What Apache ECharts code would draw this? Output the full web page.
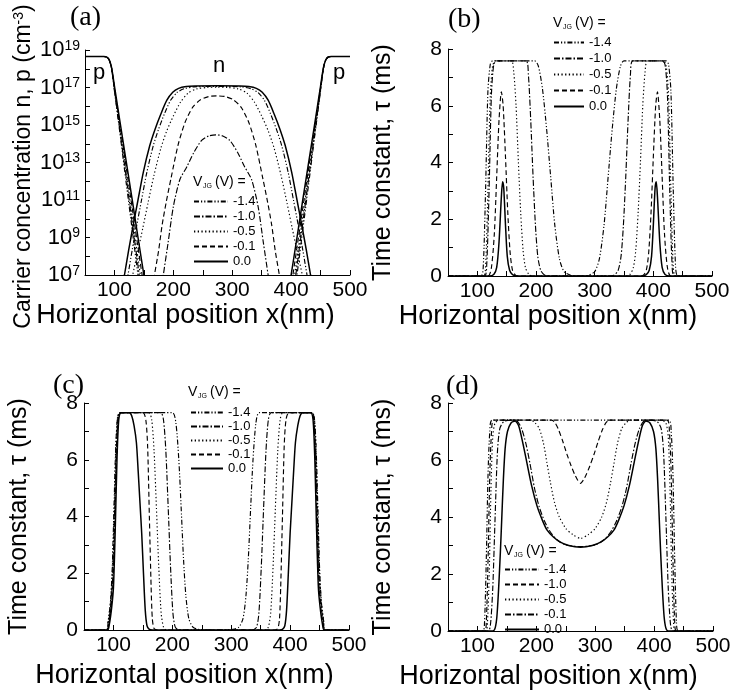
<!DOCTYPE html>
<html><head><meta charset="utf-8">
<script src="https://cdn.jsdelivr.net/npm/echarts@6/dist/echarts.min.js"></script>
<style>html,body{margin:0;padding:0;background:#fff}#c{width:732px;height:699px}</style>
</head><body><div id="c"></div>
<script>
// ---------- legend / tick labels ----------
const vjgLabels = ['-1.4', '-1.0', '-0.5', '-0.1', '0.0'];
const xTickLabels = [100, 200, 300, 400, 500];

// ---------- panel (a): carrier concentration (cm^-3) ----------
const a_pL_00 = [[50,4.5e18],[82,4.5e18],[87,4.2e18],[91,3e18],[95,1.2e18],[100,1.2e17],[110,1.1e15],[120,1.1e13],[130,1.1e11],[140,1e9],[150,1e7],[156,6e5]];
const a_pL_01 = [[50,4.5e18],[82,4.5e18],[87,4.2e18],[91,3e18],[95,1.1e18],[100,9.5e16],[110,7e14],[120,5.5e12],[130,4e10],[140,3e8],[147,1e7],[153,6e5]];
const a_pL_05 = [[50,4.5e18],[82,4.5e18],[87,4.2e18],[91,3e18],[95,1.1e18],[100,8e16],[110,4.7e14],[120,2.6e12],[130,1.5e10],[140,8e7],[144,1e7],[150,5e5]];
const a_pL_10 = [[50,4.5e18],[82,4.5e18],[87,4.2e18],[91,3e18],[95,1.1e18],[100,8e16],[110,3.2e14],[120,1.6e12],[130,6.5e9],[137,1.6e8],[142,1e7],[147,6e5]];
const a_pL_14 = [[50,4.5e18],[82,4.5e18],[87,4.2e18],[91,3e18],[95,1.1e18],[100,6.5e16],[110,2.5e14],[120,8e11],[130,2.8e9],[140,1e7],[145,6e5]];
const a_pR_00 = [[394,6e5],[400,1e7],[410,1e9],[420,1.1e11],[430,1.1e13],[440,1.1e15],[450,1.2e17],[455,1.2e18],[459,3e18],[463,4.2e18],[468,4.5e18],[500,4.5e18]];
const a_pR_01 = [[397,6e5],[403,1e7],[410,3e8],[420,4e10],[430,5.5e12],[440,7e14],[450,9.5e16],[455,1.1e18],[459,3e18],[463,4.2e18],[468,4.5e18],[500,4.5e18]];
const a_pR_05 = [[400,5e5],[406,1e7],[410,8e7],[420,1.5e10],[430,2.6e12],[440,4.7e14],[450,8e16],[455,1.1e18],[459,3e18],[463,4.2e18],[468,4.5e18],[500,4.5e18]];
const a_pR_10 = [[403,6e5],[408,1e7],[413,1.6e8],[420,6.5e9],[430,1.6e12],[440,3.2e14],[450,8e16],[455,1.1e18],[459,3e18],[463,4.2e18],[468,4.5e18],[500,4.5e18]];
const a_pR_14 = [[405,6e5],[410,1e7],[420,2.8e9],[430,8e11],[440,2.5e14],[450,6.5e16],[455,1.1e18],[459,3e18],[463,4.2e18],[468,4.5e18],[500,4.5e18]];
const a_n_00 = [[111,8e5],[117,1e7],[124,2e8],[132,4.7e9],[140,1e11],[149,3e12],[160,8e13],[169,6e14],[179,4e15],[189,2.1e16],[199,5.6e16],[209,9e16],[222,1.12e17],[237,1.2e17],[275,1.25e17],[313,1.2e17],[328,1.12e17],[341,9e16],[351,5.6e16],[361,2.1e16],[371,4e15],[381,6e14],[390,8e13],[401,3e12],[410,1e11],[418,4.7e9],[426,2e8],[433,1e7],[439,8e5]];
const a_n_14 = [[117,8e5],[123,1e7],[130,2e8],[138,4.7e9],[146,1e11],[155,3e12],[166,8e13],[175,6e14],[185,4e15],[195,2e16],[206,5.3e16],[218,8.5e16],[235,1.08e17],[275,1.15e17],[315,1.08e17],[332,8.5e16],[344,5.3e16],[355,2e16],[365,4e15],[375,6e14],[384,8e13],[395,3e12],[404,1e11],[412,4.7e9],[420,2e8],[427,1e7],[433,8e5]];
const a_n_05 = [[125,8e5],[131,1e7],[140,2e8],[148,3e9],[157,7e10],[167,2e12],[179,6e13],[189,5e14],[200,3e15],[212,1.6e16],[225,5e16],[240,8.5e16],[258,1e17],[275,1.05e17],[292,1e17],[310,8.5e16],[325,5e16],[338,1.6e16],[350,3e15],[361,5e14],[371,6e13],[383,2e12],[393,7e10],[402,3e9],[410,2e8],[419,1e7],[425,8e5]];
const a_n_01 = [[163,8e5],[168,1e7],[175,2e8],[181,4.7e9],[188,8e10],[196,1.4e12],[208,8.5e13],[220,1.4e15],[233,9e15],[246,2.2e16],[260,3.3e16],[274,3.55e16],[288,3.3e16],[302,2.2e16],[315,9e15],[328,1.4e15],[340,8.5e13],[352,1.4e12],[360,8e10],[367,4.7e9],[373,2e8],[380,1e7],[385,8e5]];
const a_n_10 = [[178,8e5],[183,1e7],[191,5e8],[200,4.4e10],[211,1.2e12],[223,6e12],[235,3.5e13],[248,1.5e14],[260,2.6e14],[272,3e14],[284,2.6e14],[296,1.5e14],[309,3.5e13],[321,6e12],[333,1.2e12],[344,4.4e10],[353,5e8],[361,1e7],[366,8e5]];

// ---------- panel (b): time constant (ms) ----------
const b_14 = [[50,0],[106,0],[110,0.3],[114,3],[118,6.5],[122,7.45],[126,7.58],[198,7.58],[204,7.4],[211,6.6],[218,5.2],[225,3.5],[232,1.8],[240,0.6],[248,0.15],[260,0.02],[274,0],[288,0.02],[300,0.15],[308,0.6],[316,1.8],[323,3.5],[330,5.2],[337,6.6],[344,7.4],[350,7.58],[422,7.58],[426,7.45],[430,6.5],[434,3],[438,0.3],[442,0],[500,0]];
const b_10 = [[50,0],[112,0],[116,0.4],[120,3],[124,6.4],[128,7.45],[133,7.58],[183,7.58],[187,7.1],[191,5.5],[195,3.5],[199,1.8],[203,0.7],[208,0.2],[215,0.03],[225,0],[323,0],[333,0.03],[340,0.2],[345,0.7],[349,1.8],[353,3.5],[357,5.5],[361,7.1],[365,7.58],[415,7.58],[420,7.45],[424,6.4],[428,3],[432,0.4],[436,0],[500,0]];
const b_05 = [[50,0],[110,0],[114,0.3],[118,3],[122,6.3],[126,7.4],[131,7.58],[158,7.58],[162,7.2],[166,6],[170,4],[174,2.2],[178,0.9],[182,0.3],[188,0.05],[195,0],[353,0],[360,0.05],[366,0.3],[370,0.9],[374,2.2],[378,4],[382,6],[386,7.2],[390,7.58],[417,7.58],[422,7.4],[426,6.3],[430,3],[434,0.3],[438,0],[500,0]];
const b_01 = [[50,0],[118,0],[124,0.3],[129,1.5],[133,3.5],[137,5.5],[141,6.49],[144,6.0],[148,4.2],[152,2.2],[156,0.8],[160,0.2],[165,0.03],[172,0],[376,0],[383,0.03],[388,0.2],[392,0.8],[396,2.2],[400,4.2],[404,6.0],[407,6.49],[411,5.5],[415,3.5],[419,1.5],[424,0.3],[430,0],[500,0]];
const b_00 = [[50,0],[120,0],[128,0.05],[133,0.3],[137,1.2],[141,2.8],[143,3.32],[145,3.1],[148,1.8],[151,0.7],[155,0.2],[160,0.05],[168,0],[380,0],[388,0.05],[393,0.2],[397,0.7],[400,1.8],[403,3.1],[405,3.32],[407,2.8],[411,1.2],[415,0.3],[420,0.05],[428,0],[500,0]];

// ---------- panel (c): time constant (ms) ----------
const c_14 = [[50,0],[88,0],[91,0.3],[95,1],[98,2.2],[101,4.4],[104,6.5],[107,7.5],[111,7.66],[200,7.66],[206,7.3],[211,6],[215,4.3],[219,2.5],[223,1.2],[228,0.4],[235,0.1],[245,0.02],[258,0],[290,0],[303,0.02],[313,0.1],[320,0.4],[325,1.2],[329,2.5],[333,4.3],[337,6],[342,7.3],[348,7.66],[437,7.66],[441,7.5],[444,6.5],[447,4.4],[450,2.2],[453,1],[457,0.3],[460,0],[500,0]];
const c_10 = [[50,0],[89,0],[92,0.3],[96,1],[99,2],[102,4.2],[105,6.4],[108,7.5],[112,7.66],[180,7.66],[185,7.4],[189,6.3],[193,4.3],[197,2.2],[201,0.6],[205,0.1],[212,0],[336,0],[343,0.1],[347,0.6],[351,2.2],[355,4.3],[359,6.3],[363,7.4],[368,7.66],[436,7.66],[440,7.5],[443,6.4],[446,4.2],[449,2],[452,1],[456,0.3],[459,0],[500,0]];
const c_05 = [[50,0],[88,0],[91,0.3],[95,1],[98,2],[101,4],[104,6.3],[107,7.5],[111,7.66],[160,7.66],[165,7.4],[169,6.3],[173,4.3],[177,2.2],[181,0.6],[185,0.1],[190,0],[358,0],[363,0.1],[367,0.6],[371,2.2],[375,4.3],[379,6.3],[383,7.4],[388,7.66],[437,7.66],[441,7.5],[444,6.3],[447,4],[450,2],[453,1],[457,0.3],[460,0],[500,0]];
const c_01 = [[50,0],[89,0],[92,0.2],[96,0.8],[99,1.6],[102,3.6],[105,6],[108,7.4],[112,7.66],[150,7.66],[155,7.4],[158,6.5],[161,4],[164,1.5],[166,0.4],[169,0.05],[175,0],[373,0],[379,0.05],[382,0.4],[384,1.5],[387,4],[390,6.5],[393,7.4],[398,7.66],[436,7.66],[440,7.4],[443,6],[446,3.6],[449,1.6],[452,0.8],[456,0.2],[459,0],[500,0]];
const c_00 = [[50,0],[90,0],[93,0.2],[97,0.8],[100,1.5],[103,3.5],[106,6],[109,7.4],[113,7.66],[127,7.66],[131,7.55],[135,7.2],[139,6.6],[142,5.6],[145,4.5],[148,3.4],[151,2.0],[154,0.7],[157,0.15],[161,0.02],[166,0],[382,0],[387,0.02],[391,0.15],[394,0.7],[397,2.0],[400,3.4],[403,4.5],[406,5.6],[409,6.6],[413,7.2],[417,7.55],[421,7.66],[435,7.66],[439,7.4],[442,6],[445,3.5],[448,1.5],[451,0.8],[455,0.2],[458,0],[500,0]];

// ---------- panel (d): time constant (ms) ----------
const d_14 = [[50,0],[109,0],[112,0.3],[115,2.5],[118,5.5],[121,7.0],[125,7.4],[425,7.4],[429,7.0],[432,5.5],[435,2.5],[438,0.3],[441,0],[500,0]];
const d_10 = [[50,0],[112,0],[115,0.3],[118,2.5],[121,5.5],[124,7.0],[128,7.4],[226,7.4],[232,7.3],[238,7.05],[245,6.65],[252,6.2],[259,5.8],[265,5.5],[270,5.3],[275,5.18],[280,5.3],[285,5.5],[291,5.8],[298,6.2],[305,6.65],[312,7.05],[318,7.3],[324,7.4],[422,7.4],[426,7.0],[429,5.5],[432,2.5],[435,0.3],[438,0],[500,0]];
const d_05 = [[50,0],[114,0],[117,0.3],[120,2],[123,5],[126,6.8],[130,7.3],[138,7.4],[190,7.4],[198,7.3],[205,7.1],[212,6.6],[218,5.9],[224,5.2],[231,4.5],[239,4.0],[250,3.6],[262,3.38],[275,3.25],[288,3.38],[300,3.6],[311,4.0],[319,4.5],[326,5.2],[332,5.9],[338,6.6],[345,7.1],[352,7.3],[360,7.4],[412,7.4],[420,7.3],[424,6.8],[427,5],[430,2],[433,0.3],[436,0],[500,0]];
const d_01 = [[50,0],[118,0],[122,0.2],[126,1.5],[130,4],[134,6.3],[138,7.1],[145,7.35],[160,7.4],[168,7.35],[175,7.1],[182,6.6],[189,5.9],[197,5.0],[205,4.35],[214,3.85],[223,3.5],[235,3.2],[250,3.02],[275,2.96],[300,3.02],[315,3.2],[327,3.5],[336,3.85],[345,4.35],[353,5.0],[361,5.9],[368,6.6],[375,7.1],[382,7.35],[390,7.4],[405,7.35],[412,7.1],[416,6.3],[420,4],[424,1.5],[428,0.2],[432,0],[500,0]];
const d_00 = [[50,0],[126,0],[130,0.1],[133,0.5],[136,1.5],[139,2.8],[141,3.8],[144,5.3],[147,6.4],[151,7.0],[157,7.3],[164,7.37],[170,7.2],[177,6.6],[184,5.9],[192,5.1],[201,4.4],[210,3.9],[218,3.55],[229,3.3],[240,3.13],[255,3.0],[275,2.94],[295,3.0],[310,3.13],[321,3.3],[332,3.55],[340,3.9],[349,4.4],[358,5.1],[366,5.9],[373,6.6],[380,7.2],[386,7.37],[393,7.3],[399,7.0],[403,6.4],[406,5.3],[409,3.8],[411,2.8],[414,1.5],[417,0.5],[420,0.1],[424,0],[500,0]];

// ---------- styles ----------
const FONT = '"Liberation Sans", Arial, sans-serif';
const DASH = {
  dd: [5, 2, 1.2, 2, 1.2, 2],
  dt: [6, 2, 1.5, 2],
  dot: [1.3, 2.4],
  das: [5, 3],
  sol: 'solid'
};
function line(panel, label, data, dash, gi) {
  return {
    type: 'line', name: panel + '|' + label, data: data,
    xAxisIndex: gi, yAxisIndex: gi, symbol: 'none', showSymbol: false,
    smooth: 0.25, clip: true, animation: false,
    itemStyle: { color: '#000' },
    lineStyle: { color: '#000', width: dash === 'solid' ? 1.5 : 1.15, type: dash },
    emphasis: { disabled: true }
  };
}
const series = [
  // (a)
  line('a', '-1.4', a_n_14, DASH.dd, 0), line('a', '-1.4', a_pL_14, DASH.dd, 0), line('a', '-1.4', a_pR_14, DASH.dd, 0),
  line('a', '-1.0', a_n_10, DASH.dt, 0), line('a', '-1.0', a_pL_10, DASH.dt, 0), line('a', '-1.0', a_pR_10, DASH.dt, 0),
  line('a', '-0.5', a_n_05, DASH.dot, 0), line('a', '-0.5', a_pL_05, DASH.dot, 0), line('a', '-0.5', a_pR_05, DASH.dot, 0),
  line('a', '-0.1', a_n_01, DASH.das, 0), line('a', '-0.1', a_pL_01, DASH.das, 0), line('a', '-0.1', a_pR_01, DASH.das, 0),
  line('a', '0.0', a_n_00, DASH.sol, 0), line('a', '0.0', a_pL_00, DASH.sol, 0), line('a', '0.0', a_pR_00, DASH.sol, 0),
  // (b)
  line('b', '-1.4', b_14, DASH.dd, 1), line('b', '-1.0', b_10, DASH.dt, 1), line('b', '-0.5', b_05, DASH.dot, 1),
  line('b', '-0.1', b_01, DASH.das, 1), line('b', '0.0', b_00, DASH.sol, 1),
  // (c)
  line('c', '-1.4', c_14, DASH.dd, 2), line('c', '-1.0', c_10, DASH.dt, 2), line('c', '-0.5', c_05, DASH.dot, 2),
  line('c', '-0.1', c_01, DASH.das, 2), line('c', '0.0', c_00, DASH.sol, 2),
  // (d) : legend here pairs -1.0 with dashed and -0.1 with dash-dot
  line('d', '-1.4', d_14, DASH.dd, 3), line('d', '-1.0', d_10, DASH.das, 3), line('d', '-0.5', d_05, DASH.dot, 3),
  line('d', '-0.1', d_01, DASH.dt, 3), line('d', '0.0', d_00, DASH.sol, 3)
];

const gridBase = { containLabel: false, outerBoundsMode: 'none' };
const grids = [
  Object.assign({ left: 85, top: 50, width: 265, height: 225 }, gridBase),
  Object.assign({ left: 448, top: 49, width: 264, height: 227 }, gridBase),
  Object.assign({ left: 84, top: 403, width: 265, height: 227 }, gridBase),
  Object.assign({ left: 448, top: 403, width: 265, height: 228 }, gridBase)
];
const axisLine = { show: true, onZero: false, lineStyle: { color: '#000', width: 1 } };
function xAxis(gi, gap) {
  return {
    type: 'value', gridIndex: gi, min: 50, max: 500, interval: 50,
    axisLine: axisLine, splitLine: { show: false },
    axisTick: { show: true, inside: true, length: 5, lineStyle: { color: '#000' } },
    axisLabel: { color: '#000', fontSize: 21, fontFamily: FONT, margin: 5,
      formatter: v => (xTickLabels.indexOf(v) >= 0 ? String(v) : '') },
    name: 'Horizontal position x(nm)', nameLocation: 'middle', nameGap: gap, nameMoveOverlap: false,
    nameTextStyle: { color: '#000', fontSize: 27, fontFamily: FONT, padding: [0, 64, 0, 0] }
  };
}
function yTau(gi) {
  return {
    type: 'value', gridIndex: gi, min: 0, max: 8, interval: 1,
    axisLine: axisLine, splitLine: { show: false },
    axisTick: { show: true, inside: true, length: 5, lineStyle: { color: '#000' } },
    axisLabel: { color: '#000', fontSize: 21, fontFamily: FONT, margin: 6,
      formatter: v => (v % 2 === 0 ? String(v) : '') },
    name: 'Time constant, τ (ms)', nameLocation: 'middle', nameGap: 52, nameMoveOverlap: false,
    nameTextStyle: { color: '#000', fontSize: 25, fontFamily: FONT }
  };
}
const yAxes = [
  {
    type: 'log', logBase: 10, gridIndex: 0, min: 1e7, max: 1e19, interval: 1,
    axisLine: axisLine, splitLine: { show: false },
    axisTick: { show: true, inside: true, length: 5, lineStyle: { color: '#000' } },
    axisLabel: {
      color: '#000', fontFamily: FONT, margin: 5,
      formatter: v => { const e = Math.round(Math.log10(v)); return (e - 7) % 2 === 0 ? '{b|10}{s|' + e + '}' : ''; },
      rich: { b: { fontSize: 22, fontFamily: FONT, color: '#000', verticalAlign: 'bottom' },
              s: { fontSize: 14, fontFamily: FONT, color: '#000', verticalAlign: 'top' } }
    },
    name: 'Carrier concentration n, p (cm{s|-3})', nameLocation: 'middle', nameGap: 50, nameMoveOverlap: false,
    nameTextStyle: { color: '#000', fontSize: 23, fontFamily: FONT, padding: [0, 8, 0, 0],
      rich: { s: { fontSize: 14, fontFamily: FONT, color: '#000', verticalAlign: 'top' } } }
  },
  yTau(1), yTau(2), yTau(3)
];

function legend(p, left, top, w, gap) {
  return {
    orient: 'vertical', left: left, top: top, padding: 0, itemWidth: w, itemHeight: 13, itemGap: gap,
    selectedMode: false, data: vjgLabels.map(l => p + '|' + l),
    formatter: n => n.split('|')[1],
    itemStyle: { color: 'rgba(0,0,0,0)', borderWidth: 0, opacity: 0 },
    lineStyle: { color: '#000' },
    textStyle: { color: '#000', fontSize: 13, fontFamily: FONT, lineHeight: 13 }
  };
}
function vjgTitle(x, y) {
  return [
    { type: 'text', left: x, top: y, style: { text: 'V', font: '14px ' + FONT, fill: '#000' } },
    { type: 'text', left: x + 10, top: y + 8, style: { text: 'JG', font: '7px ' + FONT, fill: '#000' } },
    { type: 'text', left: x + 22, top: y, style: { text: '(V) =', font: '14px ' + FONT, fill: '#000' } }
  ];
}
function panelLabel(t, x, y) {
  return { type: 'text', left: x, top: y, style: { text: t, font: '28px "Liberation Serif", "Times New Roman", serif', fill: '#000' } };
}
const graphic = [].concat(
  panelLabel('(a)', 70, 4), panelLabel('(b)', 448, 6), panelLabel('(c)', 53, 372), panelLabel('(d)', 446, 373),
  vjgTitle(193, 175), vjgTitle(553, 16), vjgTitle(188, 385), vjgTitle(504, 544),
  [
    { type: 'text', left: 93, top: 62, style: { text: 'p', font: '22px ' + FONT, fill: '#000' } },
    { type: 'text', left: 213, top: 55, style: { text: 'n', font: '22px ' + FONT, fill: '#000' } },
    { type: 'text', left: 333, top: 62, style: { text: 'p', font: '22px ' + FONT, fill: '#000' } }
  ]
);

const chart = echarts.init(document.getElementById('c'), null, { renderer: 'canvas' });
chart.setOption({
  animation: false,
  backgroundColor: '#fff',
  textStyle: { fontFamily: FONT },
  grid: grids,
  xAxis: [xAxis(0, 27), xAxis(1, 27), xAxis(2, 32), xAxis(3, 32)],
  yAxis: yAxes,
  legend: [
    legend('a', 193, 195, 34, 2),
    legend('b', 553, 36, 30, 3),
    legend('c', 190, 406, 32, 1),
    legend('d', 504, 563, 34, 2)
  ],
  graphic: graphic,
  series: series
});
</script></body></html>
